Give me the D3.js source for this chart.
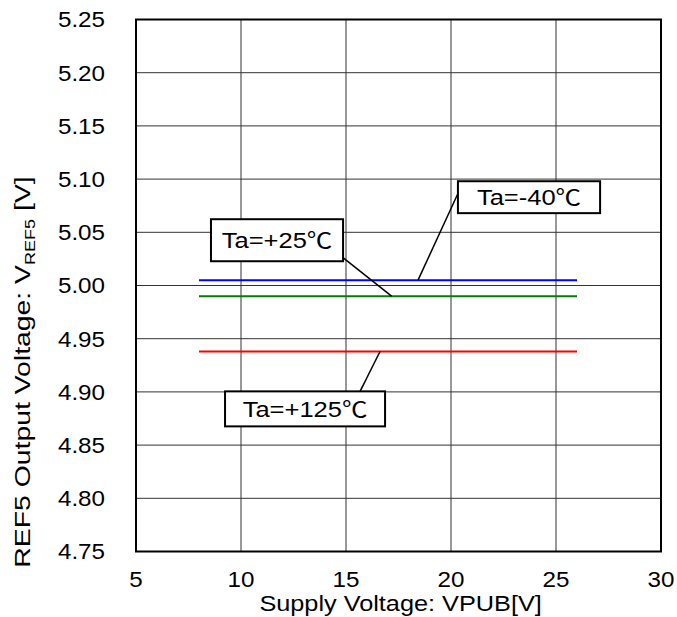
<!DOCTYPE html>
<html>
<head>
<meta charset="utf-8">
<script src="https://cdn.jsdelivr.net/npm/d3@7"></script>
<style>
  body { margin: 0; background: #fff; }
  text { font-family: "Liberation Sans", Arial, "Noto Sans CJK JP", sans-serif; fill: #000; }
</style>
</head>
<body>
<svg id="chart"></svg>
<script>
// supply voltage range of each measured series
const vpubRange = [8, 26];
// series: ambient temperature, output voltage, colour
const seriesNames = ["Ta=-40\u2103", "Ta=+25\u2103", "Ta=+125\u2103"];
const vrefValues = [5.005, 4.990, 4.938];
const seriesColors = ["#0000ff", "#008000", "#ff0000"];
// callout boxes [x0, x1, yTop, yBottom] and leader lines (data coords)
const boxX0 = [20.33, 8.57, 9.24];
const boxX1 = [27.10, 14.86, 16.86];
const boxYTop = [5.098, 5.0623, 4.9005];
const boxYBot = [5.068, 5.0228, 4.8676];
const leaderFromX = [20.33, 14.84, 15.67];
const leaderFromY = [5.0865, 5.0265, 4.9005];
const leaderToX = [18.43, 17.17, 16.62];
// axis ticks
const xTicks = [5, 10, 15, 20, 25, 30];
const yTicks = [4.75, 4.80, 4.85, 4.90, 4.95, 5.00, 5.05, 5.10, 5.15, 5.20, 5.25];

let svg = d3.select("#chart").attr("width", 677).attr("height", 617),
  margin = {top: 19.5, right: 16, bottom: 65.5, left: 136},
  width = 677 - margin.left - margin.right,
  height = 617 - margin.top - margin.bottom,
  g = svg.append("g").attr("transform", "translate(" + margin.left + "," + margin.top + ")");

let x = d3.scaleLinear().domain([5, 30]).range([0, width]);
let y = d3.scaleLinear().domain([4.75, 5.25]).range([height, 0]);

// text in the original is drawn a bit wide, so stretch it horizontally
function wideText(parent, px, py, sx, size, anchor) {
  return parent.append("g")
    .attr("transform", "translate(" + px + "," + py + ") scale(" + sx + ",1)")
    .append("text")
    .attr("text-anchor", anchor)
    .style("font-size", size + "px");
}

// grid
g.append("g")
  .selectAll("line")
  .data(xTicks.slice(1, -1))
  .join("line")
  .attr("x1", d => x(d)).attr("x2", d => x(d))
  .attr("y1", 0).attr("y2", height)
  .attr("stroke", "#333").attr("stroke-width", 1);

g.append("g")
  .selectAll("line")
  .data(yTicks.slice(1, -1))
  .join("line")
  .attr("x1", 0).attr("x2", width)
  .attr("y1", d => y(d)).attr("y2", d => y(d))
  .attr("stroke", "#333").attr("stroke-width", 1);

// tick labels
xTicks.forEach(d => {
  wideText(g, x(d), height + 35.5, 1.1, 22, "middle").text(d);
});
yTicks.forEach(d => {
  wideText(g, -31, y(d), 1.1, 22, "end").attr("dy", "0.36em").text(d.toFixed(2));
});

// series lines
g.append("g")
  .selectAll("line")
  .data(vrefValues)
  .join("line")
  .attr("x1", x(vpubRange[0])).attr("x2", x(vpubRange[1]))
  .attr("y1", d => y(d)).attr("y2", d => y(d))
  .attr("stroke", (d, i) => seriesColors[i])
  .attr("stroke-width", 2);

// plot frame
g.append("rect")
  .attr("x", 0).attr("y", 0)
  .attr("width", width).attr("height", height)
  .attr("fill", "none")
  .attr("stroke", "#000")
  .attr("stroke-width", 2);

// callouts
seriesNames.forEach((name, i) => {
  g.append("line")
    .attr("x1", x(leaderFromX[i])).attr("y1", y(leaderFromY[i]))
    .attr("x2", x(leaderToX[i])).attr("y2", y(vrefValues[i]))
    .attr("stroke", "#000").attr("stroke-width", 1.5);

  g.append("rect")
    .attr("x", x(boxX0[i])).attr("y", y(boxYTop[i]))
    .attr("width", x(boxX1[i]) - x(boxX0[i]))
    .attr("height", y(boxYBot[i]) - y(boxYTop[i]))
    .attr("fill", "#fff")
    .attr("stroke", "#000")
    .attr("stroke-width", 2);

  wideText(g, (x(boxX0[i]) + x(boxX1[i])) / 2, (y(boxYTop[i]) + y(boxYBot[i])) / 2, 1.16, 22, "middle")
    .attr("dy", "0.36em")
    .text(name);
});

// axis titles
wideText(svg, margin.left + x(17.6), 611, 1.15, 22, "middle")
  .text("Supply Voltage: VPUB[V]");

let yt = svg.append("g")
  .attr("transform", "translate(30,372) rotate(-90) scale(1.29,1)")
  .append("text")
  .attr("text-anchor", "middle")
  .style("font-size", "22px");
yt.append("tspan").text("REF5 Output Voltage: V");
yt.append("tspan").attr("dy", 5).style("font-size", "14px").text("REF5");
yt.append("tspan").attr("dy", -5).text(" [V]");
</script>
</body>
</html>
